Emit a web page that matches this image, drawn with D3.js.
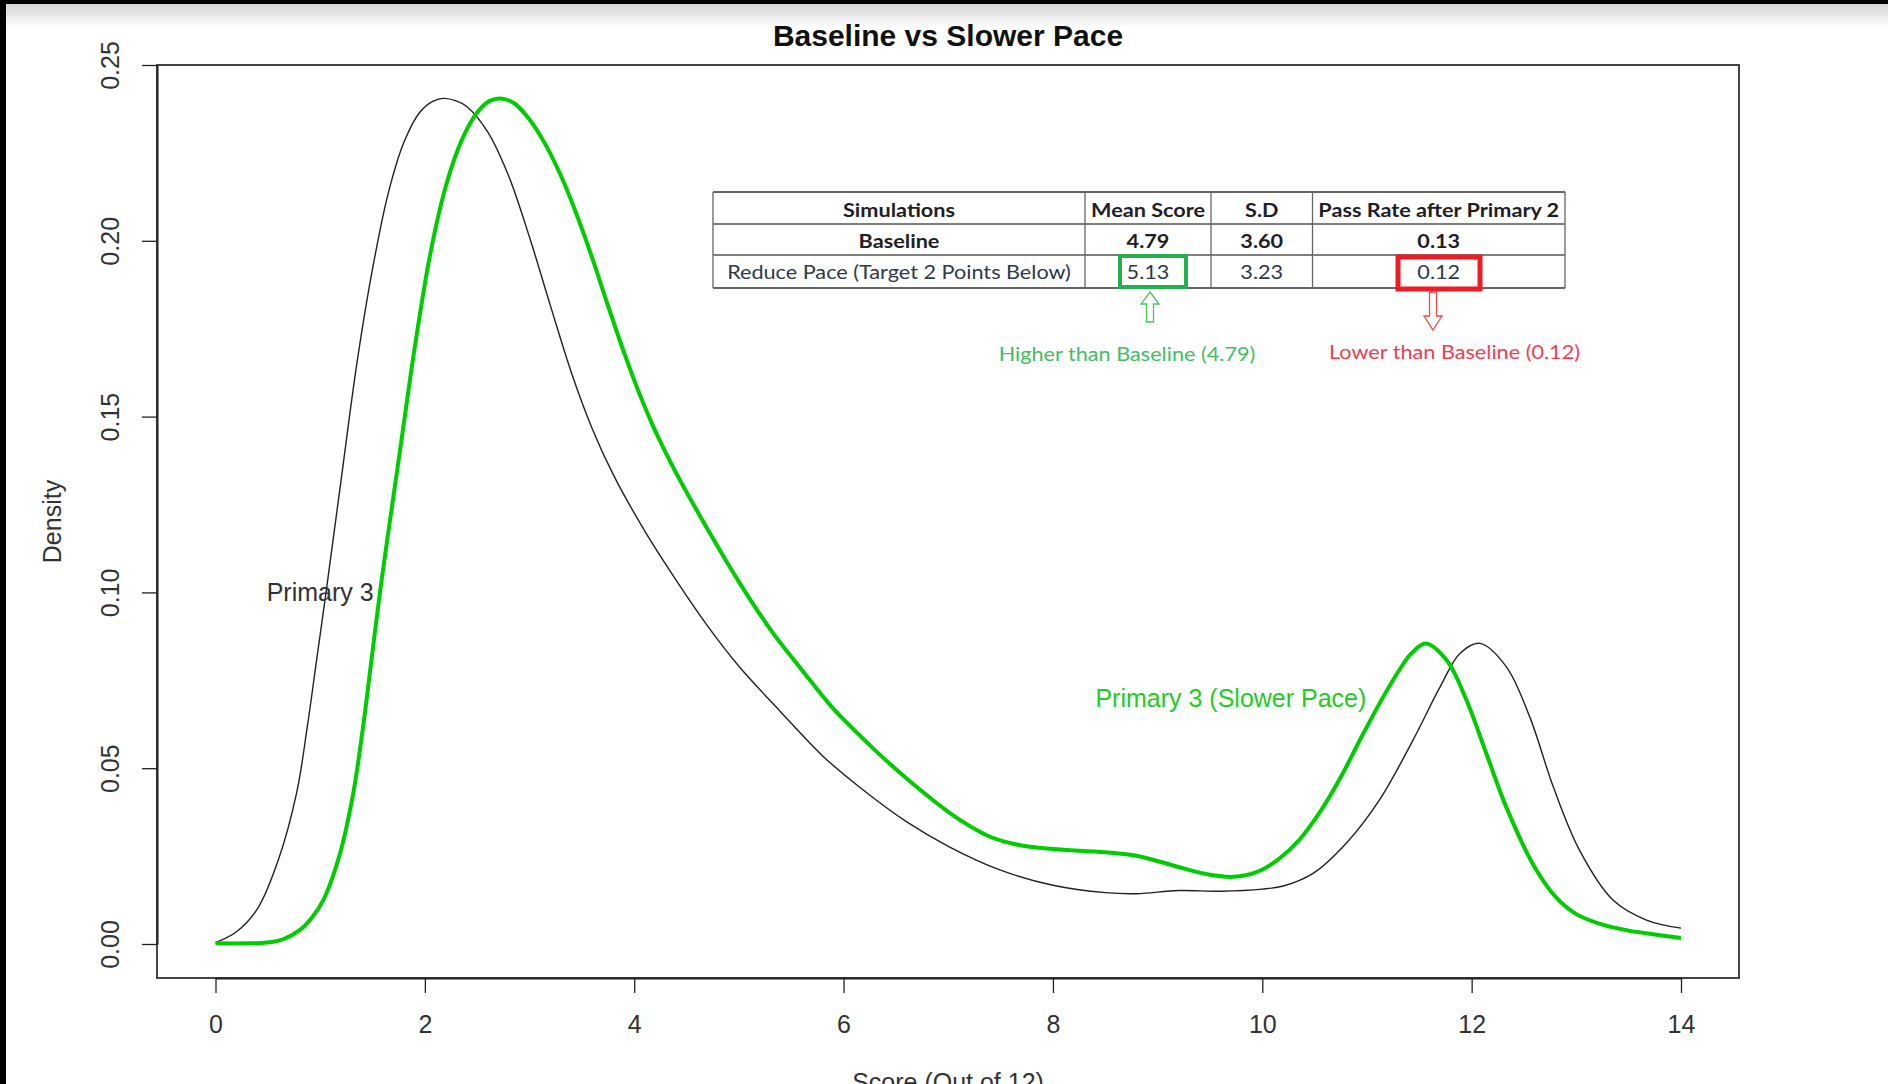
<!DOCTYPE html>
<html><head><meta charset="utf-8">
<script src="https://cdn.jsdelivr.net/npm/d3@7"></script>
<style>html,body{margin:0;padding:0;background:#fff;overflow:hidden}</style>
</head><body><svg id="c" width="1888" height="1084"></svg>
<script>
// ---- data ----
const baselineScore = [0.00,0.20,0.40,0.60,0.775,0.877,0.966,1.055,1.20,1.35,1.50,1.65,1.80,1.95,2.08,2.18,2.30,2.40,2.60,2.80,3.00,3.20,3.40,3.60,3.80,4.10,4.40,4.70,5.00,5.40,5.80,6.20,6.60,7.00,7.50,8.00,8.50,8.80,9.20,9.60,10.00,10.20,10.485,10.80,11.12,11.44,11.70,11.89,12.08,12.33,12.555,12.78,13.03,13.35,13.67,14.00];
const baselineDensity = [0.0004,0.0035,0.0100,0.0239,0.0430,0.0618,0.0808,0.0998,0.1320,0.1650,0.1920,0.2135,0.2280,0.2365,0.2397,0.2405,0.2398,0.2382,0.2310,0.2185,0.2010,0.1815,0.1625,0.1465,0.1335,0.1175,0.1035,0.0905,0.0790,0.0660,0.0535,0.0435,0.0348,0.0278,0.0210,0.0167,0.0146,0.0143,0.0152,0.0150,0.0156,0.0165,0.0201,0.0286,0.0410,0.0580,0.0732,0.0827,0.0855,0.0789,0.0646,0.0447,0.0267,0.0125,0.0068,0.0045];
const slowerScore = [0.00,0.30,0.49,0.65,0.807,0.92,1.03,1.19,1.316,1.41,1.49,1.57,1.66,1.78,1.905,2.05,2.20,2.35,2.50,2.62,2.72,2.85,3.00,3.15,3.30,3.45,3.60,3.75,3.90,4.05,4.20,4.40,4.70,5.00,5.30,5.60,5.90,6.20,6.50,6.80,7.10,7.40,7.70,8.00,8.50,8.80,9.14,9.45,9.72,9.95,10.15,10.35,10.55,10.75,10.95,11.15,11.30,11.42,11.56,11.76,11.95,12.14,12.33,12.59,12.80,13.00,13.25,13.50,13.75,14.00];
const slowerDensity = [0.0002,0.0002,0.0004,0.0014,0.0040,0.0075,0.0125,0.0258,0.0429,0.0618,0.0808,0.0997,0.1190,0.1440,0.1700,0.1960,0.2155,0.2285,0.2365,0.2398,0.2405,0.2392,0.2345,0.2275,0.2185,0.2075,0.1950,0.1815,0.1685,0.1565,0.1460,0.1340,0.1180,0.1030,0.0895,0.0780,0.0670,0.0580,0.0497,0.0422,0.0355,0.0305,0.0280,0.0270,0.0261,0.0251,0.0224,0.0200,0.0191,0.0205,0.0240,0.0295,0.0375,0.0475,0.0590,0.0700,0.0775,0.0825,0.0855,0.0808,0.0694,0.0542,0.0390,0.0225,0.0135,0.0085,0.0055,0.0038,0.0027,0.0017];
const xTicks = [0,2,4,6,8,10,12,14];
const yTicks = [0,0.05,0.10,0.15,0.20,0.25];
const titleText = "Baseline vs Slower Pace";
const xLabel = "Score (Out of 12)";
const yLabel = "Density";
const seriesLabels = ["Primary 3", "Primary 3 (Slower Pace)"];
const labelAt = [[1.0, 0.10], [9.7, 0.07]];
const tableHeader = ["Simulations", "Mean Score", "S.D", "Pass Rate after Primary 2"];
const tableNames = ["Baseline", "Reduce Pace (Target 2 Points Below)"];
const tableMean = ["4.79", "5.13"];
const tableSD = ["3.60", "3.23"];
const tablePass = ["0.13", "0.12"];
const noteTexts = ["Higher than Baseline (4.79)", "Lower than Baseline (0.12)"];

// ---- layout ----
const W = 1888, H = 1084;
const box = {left:157, right:1739, top:65, bottom:978};
const svg = d3.select("#c");
const x = d3.scaleLinear().domain([0,14]).range([215.5,1681]);
const y = d3.scaleLinear().domain([0,0.25]).range([944,65]);

// window chrome
const defs = svg.append("defs");
const g1 = defs.append("linearGradient").attr("id","topg").attr("x1",0).attr("y1",0).attr("x2",0).attr("y2",1);
g1.append("stop").attr("offset","0%").attr("stop-color","#d4d4d4");
g1.append("stop").attr("offset","100%").attr("stop-color","#ffffff");
svg.append("rect").attr("x",0).attr("y",0).attr("width",W).attr("height",H).attr("fill","#fff");
svg.append("rect").attr("x",0).attr("y",4).attr("width",W).attr("height",24).attr("fill","url(#topg)");
svg.append("rect").attr("x",0).attr("y",0).attr("width",W).attr("height",4).attr("fill","#000");
svg.append("rect").attr("x",0).attr("y",0).attr("width",6).attr("height",H).attr("fill","#000");

// title
svg.append("text").attr("x",948).attr("y",46).attr("text-anchor","middle")
  .attr("font-family","'Liberation Sans',Arial,sans-serif").attr("font-weight","bold")
  .attr("font-size",30).attr("fill","#111").text(titleText);

// box
svg.append("rect").attr("x",box.left).attr("y",box.top)
  .attr("width",box.right-box.left).attr("height",box.bottom-box.top)
  .attr("fill","none").attr("stroke","#444").attr("stroke-width",2);

const axisFont = "'Liberation Sans',Arial,sans-serif";
// x axis
const gx = svg.append("g").attr("transform",`translate(0,${box.bottom})`)
  .call(d3.axisBottom(x).tickValues(xTicks).tickSize(15).tickSizeOuter(0).tickPadding(22).tickFormat(d3.format("d")));
gx.select(".domain").attr("stroke","#222").attr("stroke-width",2);
gx.selectAll(".tick line").attr("stroke","#222").attr("stroke-width",1.3);
gx.selectAll("text").attr("font-family",axisFont).attr("font-size",25).attr("fill","#333");

// y axis
const gy = svg.append("g").attr("transform",`translate(${box.left},0)`)
  .call(d3.axisLeft(y).tickValues(yTicks).tickSize(15).tickSizeOuter(0).tickFormat(d3.format(".2f")));
gy.select(".domain").attr("stroke","#222").attr("stroke-width",2);
gy.selectAll(".tick line").attr("stroke","#222").attr("stroke-width",1.3);
gy.selectAll("text").attr("x",null).attr("dy",null).attr("text-anchor","middle")
  .attr("transform","translate(-38,0) rotate(-90)")
  .attr("font-family",axisFont).attr("font-size",25).attr("fill","#333");
gy.attr("font-size",null).attr("font-family",null);
gx.attr("font-size",null).attr("font-family",null);

// axis labels
svg.append("text").attr("transform",`translate(61,${(box.top+box.bottom)/2}) rotate(-90)`)
  .attr("text-anchor","middle").attr("font-family",axisFont).attr("font-size",25).attr("fill","#333").text(yLabel);
svg.append("text").attr("x",(box.left+box.right)/2).attr("y",1091).attr("text-anchor","middle")
  .attr("font-family",axisFont).attr("font-size",25).attr("fill","#333").text(xLabel);

// curves
const line = d3.line().x(d=>x(d[0])).y(d=>y(d[1])).curve(d3.curveCatmullRom.alpha(0.5));
svg.append("path").datum(baselineScore.map((v,i)=>[v,baselineDensity[i]]))
  .attr("d",line).attr("fill","none").attr("stroke","#222").attr("stroke-width",1.4);
svg.append("path").datum(slowerScore.map((v,i)=>[v,slowerDensity[i]]))
  .attr("d",line).attr("fill","none").attr("stroke","#00cd00").attr("stroke-width",4);

// series labels
const labelColors = ["#333","#22cc22"];
seriesLabels.forEach((t,i)=>{
  svg.append("text").attr("x",x(labelAt[i][0])).attr("y",y(labelAt[i][1])).attr("dy","0.35em")
    .attr("text-anchor","middle").attr("font-family",axisFont).attr("font-size",25)
    .attr("fill",labelColors[i]).text(t);
});

// table (pasted image, slightly stretched horizontally)
const tf = "Lato,'Open Sans',sans-serif";
const sx = 1.14;
function stretchedText(parent, cx, by, t, size, weight, color){
  return parent.append("text").attr("transform",`translate(${cx},${by}) scale(${sx},1)`)
    .attr("text-anchor","middle").attr("font-family",tf).attr("font-size",size)
    .attr("font-weight",weight).attr("fill",color).text(t);
}
const colX = [713,1085,1211,1312.5,1565];
const rowY = [192,224,255,288];
const tg = svg.append("g");
rowY.forEach((ry,i)=>tg.append("line").attr("x1",colX[0]).attr("x2",colX[4]).attr("y1",ry).attr("y2",ry)
  .attr("stroke", (i===0||i===3)?"#333":"#555").attr("stroke-width",1.6));
colX.forEach(cx=>tg.append("line").attr("x1",cx).attr("x2",cx).attr("y1",rowY[0]).attr("y2",rowY[3])
  .attr("stroke","#666").attr("stroke-width",1.3));
const rows = [tableHeader,
  [tableNames[0],tableMean[0],tableSD[0],tablePass[0]],
  [tableNames[1],tableMean[1],tableSD[1],tablePass[1]]];
const baseY = [217,248,279];
rows.forEach((r,ri)=>{
  r.forEach((t,ci)=>{
    stretchedText(tg,(colX[ci]+colX[ci+1])/2,baseY[ri],t,19,ri<2?"bold":"normal",ri<2?"#1e1e28":"#2c3a4a");
  });
});
// highlight boxes
svg.append("rect").attr("x",1120).attr("y",256).attr("width",66).attr("height",31)
  .attr("fill","none").attr("stroke","#22b14c").attr("stroke-width",4);
svg.append("rect").attr("x",1398).attr("y",257).attr("width",82).attr("height",32)
  .attr("fill","none").attr("stroke","#ed1c24").attr("stroke-width",5);
// hollow arrows
function upArrow(cx, top, bottom, headH, hw, sw){
  return `M${cx},${top} L${cx+hw},${top+headH} L${cx+sw},${top+headH} L${cx+sw},${bottom} L${cx-sw},${bottom} L${cx-sw},${top+headH} L${cx-hw},${top+headH} Z`;
}
function downArrow(cx, top, bottom, headH, hw, sw){
  return `M${cx},${bottom} L${cx+hw},${bottom-headH} L${cx+sw},${bottom-headH} L${cx+sw},${top} L${cx-sw},${top} L${cx-sw},${bottom-headH} L${cx-hw},${bottom-headH} Z`;
}
svg.append("path").attr("d",upArrow(1150,292,322,12,9,3.5)).attr("fill","#fff").attr("stroke","#4cc35e").attr("stroke-width",1.3);
svg.append("path").attr("d",downArrow(1433,292,330,14,9,3.5)).attr("fill","#fff").attr("stroke","#f04848").attr("stroke-width",1.3);
// notes
stretchedText(svg,1127,361,noteTexts[0],19,"normal","#40c060");
stretchedText(svg,1454.5,359,noteTexts[1],19,"normal","#f04050");
</script></body></html>
